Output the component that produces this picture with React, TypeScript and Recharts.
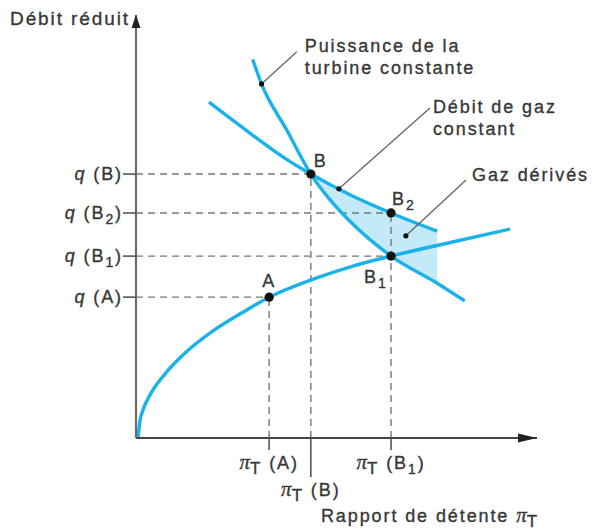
import {
  ComposedChart,
  Line,
  Area,
  XAxis,
  YAxis,
  ReferenceLine,
  ReferenceDot,
} from "recharts";

// Operating points on the turbine map: expansion ratio πT and reduced flow q
const pointNames = ["A", "B", "B1", "B2"];
const pointPi = [3.32, 4.36, 6.36, 6.36];
const pointQ = [3.33, 6.24, 4.3, 5.32];

// Iso-line: constant gas flow
const gasFlowPi = [1.82, 2.84, 3.67, 4.36, 5.36, 6.36, 7.51];
const gasFlowQ = [7.94, 7.21, 6.64, 6.24, 5.74, 5.32, 4.89];

// Iso-line: constant turbine power
const powerPi = [2.91, 3.13, 3.76, 4.36, 4.84, 5.36, 6.36, 7.51, 8.2];
const powerQ = [8.95, 8.37, 7.28, 6.24, 5.63, 5.1, 4.3, 3.66, 3.24];

// Turbine swallowing characteristic
const swallowPi = [0.05, 0.1, 0.17, 0.35, 0.72, 1.17, 1.92, 2.59, 3.32, 4.49, 5.39, 6.36, 7.78, 9.33];
const swallowQ = [0, 0.41, 0.65, 1.02, 1.51, 1.96, 2.53, 2.93, 3.33, 3.78, 4.06, 4.3, 4.61, 4.94];

// Bypassed gas: band between the two iso-lines, from B up to this ratio
const bypassStartPi = 4.36;
const bypassEndPi = 7.51;

// Axis tick labels
const qTickNames = ["A", "B1", "B2", "B"];
const piTickNames = ["A", "B", "B1"];

// Callouts: text lines, leader start (on the curve) and leader end
const calloutText = [
  ["Puissance de la", "turbine constante"],
  ["Débit de gaz", "constant"],
  ["Gaz dérivés"],
];
const calloutFromPi = [3.13, 5.06, 6.73];
const calloutFromQ = [8.37, 5.89, 4.78];
const calloutToPi = [4.01, 7.33, 8.23];
const calloutToQ = [9.13, 7.8, 6.1];

const CYAN = "#1ab2e8";
const SHADE = "#c4eafa";
const INK = "#383838";
const AXIS = "#555";
const GUIDE = "#777";
const FONT = "'Liberation Sans', Arial, Helvetica, sans-serif";
const PI_FONT = "'Liberation Serif', 'Times New Roman', serif";

const qOf = (name: string) => pointQ[pointNames.indexOf(name)];
const piOf = (name: string) => pointPi[pointNames.indexOf(name)];
const qTicks = qTickNames.map(qOf);
const piTicks = piTickNames.map(piOf);

const textProps = {
  fontFamily: FONT,
  fontSize: 18,
  letterSpacing: 1.9,
  fill: INK,
  stroke: INK,
  strokeWidth: 0.35,
};

// "B2" -> B with a subscript 2, followed by whatever comes after
const nameSpans = (name: string, tail = "") =>
  name.length > 1
    ? [
        <tspan key="m">{name[0]}</tspan>,
        <tspan key="s" dy={5} fontSize={14}>
          {name.slice(1)}
        </tspan>,
        <tspan key="t" dy={-5}>
          {tail}
        </tspan>,
      ]
    : [<tspan key="m">{name + tail}</tspan>];

const PiSymbol = () => (
  <>
    <tspan fontFamily={PI_FONT} fontStyle="italic" fontSize={21} letterSpacing={0}>
      π
    </tspan>
    <tspan dy={5} fontSize={17}>
      T
    </tspan>
  </>
);

const QTick = (props: any) => {
  const { x, y, payload } = props;
  const name = qTickNames[qTicks.indexOf(payload.value)];
  return (
    <g>
      <line x1={x - 13} y1={y} x2={x} y2={y} stroke={AXIS} strokeWidth={1.6} />
      <text x={x - 13} y={y + 6} textAnchor="end" {...textProps}>
        <tspan fontStyle="italic">q</tspan>
        <tspan>{"\u00a0("}</tspan>
        {nameSpans(name, ")")}
      </text>
    </g>
  );
};

const PiTick = (props: any) => {
  const { x, y, payload } = props;
  const name = piTickNames[piTicks.indexOf(payload.value)];
  // the design point B hangs one row lower
  const low = name === "B";
  return (
    <g>
      <line x1={x} y1={y} x2={x} y2={y + (low ? 39 : 12)} stroke={AXIS} strokeWidth={1.6} />
      <text x={x} y={y + (low ? 58 : 31)} textAnchor="middle" {...textProps}>
        <PiSymbol />
        <tspan dy={-5}>{"\u00a0("}</tspan>
        {nameSpans(name, ")")}
      </text>
    </g>
  );
};

const nameOffset: Record<string, { dx: number; dy: number; anchor: string }> = {
  A: { dx: 0, dy: -10, anchor: "middle" },
  B: { dx: 3, dy: -7, anchor: "start" },
  B1: { dx: -27, dy: 27, anchor: "start" },
  B2: { dx: 1, dy: -8, anchor: "start" },
};

const calloutOffset = [
  { dx: 8, dy: 0 },
  { dx: 3, dy: 5 },
  { dx: 6, dy: 1 },
];

export default function App() {
  const gasFlow = gasFlowPi.map((pi, i) => ({ pi, q: gasFlowQ[i] }));
  const power = powerPi.map((pi, i) => ({ pi, q: powerQ[i] }));
  const swallow = swallowPi.map((pi, i) => ({ pi, q: swallowQ[i] }));
  const bypassBand = gasFlowPi
    .filter((pi) => pi >= bypassStartPi && pi <= bypassEndPi)
    .map((pi) => ({
      pi,
      band: [powerQ[powerPi.indexOf(pi)], gasFlowQ[gasFlowPi.indexOf(pi)]],
    }));

  // vertical guides go up to the highest point sharing the same ratio
  const verticals = Array.from(new Set(pointPi)).map((pi) => ({
    pi,
    q: Math.max(...pointPi.map((p, i) => (p === pi ? pointQ[i] : 0))),
  }));

  return (
    <div style={{ position: "absolute", left: 0, top: 0, background: "#fff" }}>
      <ComposedChart
        width={594}
        height={531}
        margin={{ top: 15, right: 57, bottom: 33, left: 76 }}
      >
        <XAxis
          type="number"
          dataKey="pi"
          domain={[0, 10]}
          ticks={piTicks}
          interval={0}
          tick={(p: any) => <PiTick {...p} />}
          tickLine={false}
          tickSize={0}
          tickMargin={0}
          axisLine={{ stroke: "#444", strokeWidth: 1.8 }}
          height={60}
          allowDataOverflow
        />
        <YAxis
          type="number"
          domain={[0, 10]}
          ticks={qTicks}
          interval={0}
          tick={(p: any) => <QTick {...p} />}
          tickLine={false}
          tickSize={0}
          tickMargin={0}
          axisLine={{ stroke: "#6a6a6a", strokeWidth: 2.2 }}
          width={60}
          allowDataOverflow
        />

        <Area
          data={bypassBand}
          dataKey="band"
          type="monotone"
          stroke="none"
          fill={SHADE}
          fillOpacity={1}
          isAnimationActive={false}
        />

        {pointNames.map((name, i) => (
          <ReferenceLine
            key={`h-${name}`}
            segment={[
              { x: 0, y: pointQ[i] },
              { x: pointPi[i], y: pointQ[i] },
            ]}
            stroke={GUIDE}
            strokeWidth={1.4}
            strokeDasharray="7 5"
            ifOverflow="visible"
          />
        ))}
        {verticals.map((v) => (
          <ReferenceLine
            key={`v-${v.pi}`}
            segment={[
              { x: v.pi, y: 0 },
              { x: v.pi, y: v.q },
            ]}
            stroke={GUIDE}
            strokeWidth={1.4}
            strokeDasharray="7 5"
            ifOverflow="visible"
          />
        ))}

        <Line data={swallow} dataKey="q" type="monotone" stroke={CYAN} strokeWidth={3.4} dot={false} isAnimationActive={false} />
        <Line data={gasFlow} dataKey="q" type="monotone" stroke={CYAN} strokeWidth={3.4} dot={false} isAnimationActive={false} />
        <Line data={power} dataKey="q" type="monotone" stroke={CYAN} strokeWidth={3.4} dot={false} isAnimationActive={false} />

        {calloutText.map((lines, i) => (
          <ReferenceLine
            key={`lead-${i}`}
            segment={[
              { x: calloutFromPi[i], y: calloutFromQ[i] },
              { x: calloutToPi[i], y: calloutToQ[i] },
            ]}
            stroke="#666"
            strokeWidth={1.3}
            ifOverflow="visible"
          />
        ))}
        {calloutText.map((lines, i) => (
          <ReferenceDot
            key={`lead-dot-${i}`}
            x={calloutFromPi[i]}
            y={calloutFromQ[i]}
            r={2.6}
            fill="#111"
            stroke="none"
            ifOverflow="visible"
          />
        ))}
        {calloutText.map((lines, i) => (
          <ReferenceDot
            key={`lead-text-${i}`}
            x={calloutToPi[i]}
            y={calloutToQ[i]}
            r={0}
            ifOverflow="visible"
            shape={(p: any) => (
              <text x={p.cx + calloutOffset[i].dx} y={p.cy + calloutOffset[i].dy} {...textProps}>
                {lines.map((line, j) => (
                  <tspan key={j} x={p.cx + calloutOffset[i].dx} dy={j === 0 ? 0 : 22}>
                    {line}
                  </tspan>
                ))}
              </text>
            )}
          />
        ))}

        {pointNames.map((name, i) => (
          <ReferenceDot
            key={`pt-${name}`}
            x={pointPi[i]}
            y={pointQ[i]}
            r={4.6}
            ifOverflow="visible"
            shape={(p: any) => {
              const o = nameOffset[name];
              return (
                <g>
                  <circle cx={p.cx} cy={p.cy} r={4.6} fill="#111" />
                  <text x={p.cx + o.dx} y={p.cy + o.dy} textAnchor={o.anchor} {...textProps}>
                    {nameSpans(name)}
                  </text>
                </g>
              );
            }}
          />
        ))}

        {/* axis arrows and axis titles */}
        <ReferenceDot
          x={10}
          y={0}
          r={0}
          ifOverflow="visible"
          shape={(p: any) => (
            <g>
              <polygon
                points={`${p.cx},${p.cy} ${p.cx - 19},${p.cy - 4.5} ${p.cx - 19},${p.cy + 4.5}`}
                fill="#222"
              />
              <text x={p.cx + 2} y={p.cy + 84} textAnchor="end" {...textProps}>
                <tspan>{"Rapport de détente\u00a0"}</tspan>
                <PiSymbol />
              </text>
            </g>
          )}
        />
        <ReferenceDot
          x={0}
          y={10}
          r={0}
          ifOverflow="visible"
          shape={(p: any) => (
            <g>
              <polygon
                points={`${p.cx},${p.cy} ${p.cx - 4.5},${p.cy + 13} ${p.cx + 4.5},${p.cy + 13}`}
                fill="#222"
              />
              <text x={p.cx - 6} y={p.cy + 10} textAnchor="end" {...textProps} fontSize={19}>
                Débit réduit
              </text>
            </g>
          )}
        />
      </ComposedChart>
    </div>
  );
}
